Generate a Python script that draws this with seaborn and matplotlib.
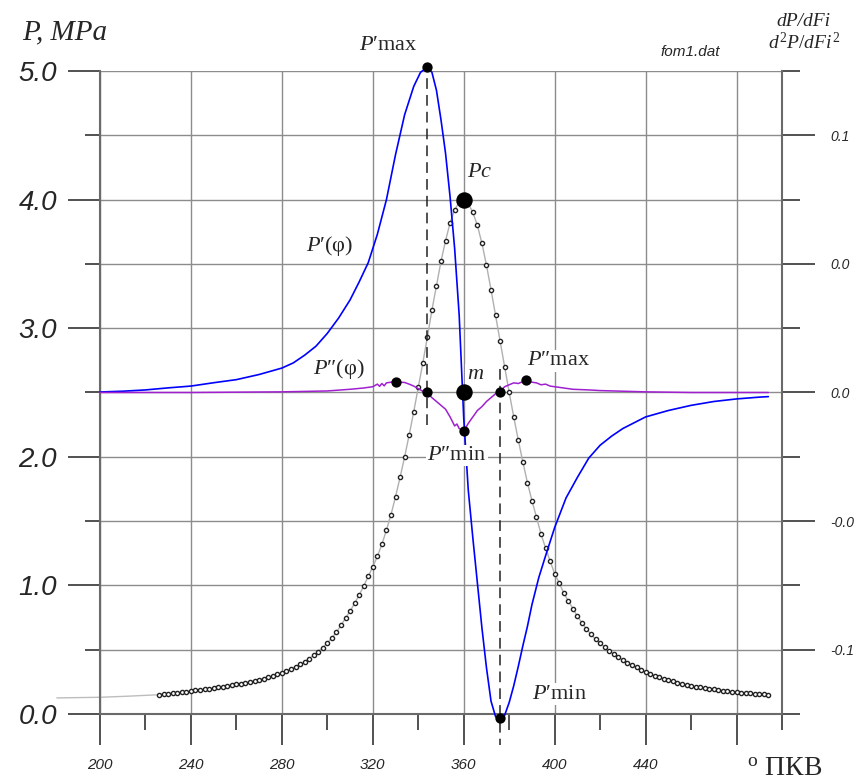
import matplotlib
matplotlib.use("Agg")
import matplotlib.pyplot as plt
import seaborn as sns

# crank angle (deg) and cylinder pressure (MPa)
lead_deg = [181, 200, 213, 226]
lead_p = [0.125, 0.130, 0.139, 0.150]

p_deg = list(range(226, 495, 2))
p_mpa = [
    0.150, 0.154, 0.158, 0.162, 0.166, 0.170, 0.174, 0.178, 0.183, 0.187,
    0.192, 0.197, 0.202, 0.207, 0.212, 0.218, 0.224, 0.230, 0.237, 0.244,
    0.251, 0.259, 0.267, 0.276, 0.286, 0.297, 0.309, 0.322, 0.336, 0.351,
    0.368, 0.387, 0.408, 0.431, 0.457, 0.486, 0.517, 0.552, 0.592, 0.636,
    0.690, 0.745, 0.800, 0.860, 0.925, 0.995, 1.070, 1.145, 1.225, 1.320,
    1.430, 1.550, 1.690, 1.840, 2.000, 2.170, 2.350, 2.540, 2.730, 2.930,
    3.140, 3.330, 3.520, 3.680, 3.820, 3.920, 3.980, 4.000, 3.970, 3.900,
    3.800, 3.660, 3.490, 3.300, 3.100, 2.900, 2.700, 2.500, 2.310, 2.130,
    1.960, 1.800, 1.660, 1.530, 1.400, 1.290, 1.190, 1.090, 1.020, 0.940,
    0.880, 0.820, 0.760, 0.710, 0.660, 0.620, 0.580, 0.550, 0.520, 0.490,
    0.465, 0.440, 0.420, 0.400, 0.380, 0.362, 0.345, 0.328, 0.313, 0.299,
    0.286, 0.274, 0.263, 0.253, 0.244, 0.235, 0.227, 0.220, 0.213, 0.207,
    0.201, 0.196, 0.191, 0.186, 0.182, 0.178, 0.174, 0.171, 0.167, 0.164,
    0.161, 0.158, 0.155, 0.152, 0.150,
]

# first derivative dP/dFi
d1_deg = [200, 210, 220, 230, 240, 250, 260, 270, 280, 285, 290, 295, 300,
          305, 310, 314, 318, 322, 326, 330, 334, 338, 341, 344, 346, 348,
          350, 352, 354, 356, 358, 360, 362, 364, 366, 368, 370, 372, 374,
          376, 378, 380, 382, 384, 386, 388, 390, 393, 396, 400, 405, 410,
          415, 420, 425, 430, 440, 450, 460, 470, 480, 490, 494]
d1_val = [0.0002, 0.0005, 0.0010, 0.0018, 0.0025, 0.0038, 0.0050, 0.0070,
          0.0095, 0.0115, 0.0145, 0.0180, 0.0230, 0.0290, 0.0360, 0.0430,
          0.0505, 0.0615, 0.0750, 0.0925, 0.1080, 0.1190, 0.1245, 0.1265,
          0.1245, 0.1175, 0.1060, 0.0930, 0.0760, 0.0560, 0.0300, -0.0100,
          -0.0380, -0.0565, -0.0740, -0.0915, -0.1070, -0.1200, -0.1260,
          -0.1275, -0.1255, -0.1205, -0.1140, -0.1065, -0.0985, -0.0910,
          -0.0825, -0.0720, -0.0635, -0.0525, -0.0410, -0.0330, -0.0255,
          -0.0205, -0.0170, -0.0140, -0.0095, -0.0070, -0.0050, -0.0035,
          -0.0025, -0.0018, -0.0016]

# second derivative d2P/dFi2 (same right scale)
d2_deg = [200, 240, 280, 300, 310, 316, 320, 322, 323, 324, 325, 326, 328,
          330, 332, 334, 336, 338, 340, 342, 344, 346, 348, 350, 352, 354,
          356, 357, 358, 360, 362, 364, 366, 368, 370, 372, 374, 376, 378,
          380, 382, 384, 386, 388, 390, 392, 394, 396, 398, 400, 404, 408,
          415, 420, 430, 440, 460, 494]
d2_val = [0.0, 0.0, 0.00025, 0.0006, 0.00125, 0.00175, 0.00225, 0.00325,
          0.0024, 0.0035, 0.0026, 0.00375, 0.0040, 0.00425, 0.0040, 0.0039,
          0.00325, 0.0025, 0.0015, 0.0005, -0.00025, -0.0020, -0.0035,
          -0.0050, -0.0065, -0.0095, -0.0130, -0.01225, -0.0140, -0.0150,
          -0.0120, -0.0095, -0.0070, -0.0055, -0.0035, -0.0020, -0.0005,
          0.0005, 0.00225, 0.0030, 0.00375, 0.0035, 0.00425, 0.0047, 0.0040,
          0.00375, 0.0030, 0.00325, 0.0025, 0.00225, 0.00175, 0.00125,
          0.0010, 0.00075, 0.0005, 0.00025, 0.0, 0.0]

# marked points: P'max, P'min, P''(phi) bump, zero crossings, P''min, P''max
dot_deg = [344, 376, 330, 344, 376, 360, 387.5]
dot_val = [0.1265, -0.1265, 0.00425, 0.0, 0.0, -0.015, 0.0047]
pc_deg, pc_p = [360], [4.0]
m_deg, m_val = [360], [0.0]

p_ticks = [0.0, 0.5, 1.0, 1.5, 2.0, 2.5, 3.0, 3.5, 4.0, 4.5, 5.0]
p_major = [0, 1, 2, 3, 4, 5]
p_labels = ["0.0", "1.0", "2.0", "3.0", "4.0", "5.0"]
x_major = [200, 240, 280, 320, 360, 400, 440, 480]
x_minor = [220, 260, 300, 340, 380, 420, 460, 500]
x_labels = ["200", "240", "280", "320", "360", "400", "440", ""]
r_major = [-0.1, -0.05, 0.0, 0.05, 0.1]
r_minor = [-0.125, -0.075, -0.025, 0.025, 0.075, 0.125]
r_labels = ["-0.1", "-0.0", "0.0", "0.0", "0.1"]

sns.set_style("white")
plt.rcParams["font.family"] = ["Liberation Sans", "DejaVu Sans"]
plt.rcParams["mathtext.fontset"] = "custom"
plt.rcParams["mathtext.rm"] = "Liberation Serif"
plt.rcParams["mathtext.it"] = "Liberation Serif:italic"
plt.rcParams["mathtext.bf"] = "Liberation Serif:bold"

SERIF = ["Liberation Serif", "DejaVu Serif"]
GRID = "#8c8c8c"
AXC = "#6a6a6a"
TICKC = "#333333"

fig = plt.figure(figsize=(8.57, 7.81), dpi=100)
ax = fig.add_axes([100 / 857, 67 / 781, 682 / 857, 643 / 781])
ax2 = ax.twinx()

ax.set_xlim(200, 500)
ax.set_ylim(0, 5)
ax2.set_ylim(-0.125, 0.125)

# grid
ax.set_xticks(x_major, x_labels, fontstyle="italic", fontsize=11)
ax.set_xticks(x_minor, minor=True)
ax.set_yticks(p_major, p_labels, fontstyle="italic", fontsize=20)
ax.set_yticks([t for t in p_ticks if t not in p_major], minor=True)
ax.grid(True, axis="x", which="major", color=GRID, lw=1.0)
ax.grid(True, axis="y", which="both", color=GRID, lw=1.0)
ax.set_axisbelow(True)

ax2.set_yticks(r_major, r_labels, fontstyle="italic", fontsize=10)
ax2.set_yticks(r_minor, minor=True)

for s in ["top", "right"]:
    ax.spines[s].set_visible(False)
for s in ["left", "bottom"]:
    ax.spines[s].set_color(AXC)
    ax.spines[s].set_linewidth(1.5)
for s in ["top", "left", "bottom"]:
    ax2.spines[s].set_visible(False)
ax2.spines["right"].set_color(AXC)
ax2.spines["right"].set_linewidth(1.5)

ax.tick_params(axis="y", which="major", direction="out", length=23, width=1.2,
               color=TICKC, pad=8, left=True)
ax.tick_params(axis="y", which="minor", direction="out", length=11, width=1.2,
               color=TICKC, left=True)
ax.tick_params(axis="x", which="major", direction="out", length=22, width=1.2,
               color=TICKC, pad=10, bottom=True)
ax.tick_params(axis="x", which="minor", direction="out", length=11.5, width=1.2,
               color=TICKC, bottom=True)
ax2.tick_params(axis="y", which="major", direction="out", length=24, width=1.2,
                color=TICKC, pad=11, right=True)
ax2.tick_params(axis="y", which="minor", direction="out", length=13, width=1.2,
                color=TICKC, right=True)

# pressure curve
ax.plot(lead_deg, lead_p, color="#bdbdbd", lw=1.0, clip_on=False, zorder=2)
sns.lineplot(x=p_deg, y=p_mpa, ax=ax, color="#b0b0b0", lw=1.0,
             marker="o", markersize=3.0, markerfacecolor="white",
             markeredgecolor="#222222", markeredgewidth=1.0,
             errorbar=None, clip_on=False, zorder=3)
sns.scatterplot(x=pc_deg, y=pc_p, ax=ax, color="black", s=140,
                linewidth=0, zorder=6, clip_on=False)

# derivatives
sns.lineplot(x=d1_deg, y=d1_val, ax=ax2, color="#0000ff", lw=1.2,
             errorbar=None, clip_on=False, zorder=3)
sns.lineplot(x=d2_deg, y=d2_val, ax=ax2, color="#a020d0", lw=1.1,
             errorbar=None, clip_on=False, zorder=3)

# dashed markers of P'max / P'min
ax2.vlines(dot_deg[0], dot_val[5] + 0.0025, dot_val[0], colors="#222222",
           lw=1.1, linestyles=(0, (7, 4)), zorder=4, clip_on=False)
ax2.vlines(dot_deg[1], 0.009, -0.137, colors="#222222",
           lw=1.1, linestyles=(0, (7, 4)), zorder=4, clip_on=False)

sns.scatterplot(x=dot_deg, y=dot_val, ax=ax2, color="black", s=55,
                linewidth=0, zorder=7, clip_on=False)
sns.scatterplot(x=m_deg, y=m_val, ax=ax2, color="black", s=140,
                linewidth=0, zorder=7, clip_on=False)
ax2.set_xlim(200, 500)
ax.set_xlabel("")
ax.set_ylabel("")
ax2.set_ylabel("")

box = dict(facecolor="white", edgecolor="none", pad=1.0)
labels = [
    (326.7, 5.20, r"$P$′max"),
    (367.2, 4.21, r"$Pc$"),
    (301.2, 3.64, r"$P$′(φ)"),
    (305.1, 2.68, r"$P$″(φ)"),
    (365.0, 2.64, r"$m$"),
    (401.5, 2.745, r"$P$″max"),
    (357.0, 2.01, r"$P$″min"),
    (402.3, 0.155, r"$P$′min"),
]
for x, y, t in labels:
    ax2.text(x, y, t, transform=ax.transData, family=SERIF, fontsize=16,
             ha="center", va="center", bbox=box, zorder=5)

fig.text(22 / 857, 1 - 32 / 781, "P, MPa", family=SERIF, style="italic",
         fontsize=21, ha="left", va="center")
fig.text(690 / 857, 1 - 52 / 781, "fom1.dat", style="italic", fontsize=11,
         ha="center", va="center")
fig.text(803 / 857, 1 - 21 / 781, "dP/dFi", family=SERIF, style="italic",
         fontsize=14, ha="center", va="center")
fig.text(804 / 857, 1 - 42 / 781, r"$d^2P/dFi^2$", family=SERIF,
         fontsize=14, ha="center", va="center")
fig.text(785 / 857, 1 - 769 / 781, r"$^{\rm o}$ ПКВ", family=SERIF,
         fontsize=20, ha="center", va="center")

fig.savefig("out.png", dpi=100)
